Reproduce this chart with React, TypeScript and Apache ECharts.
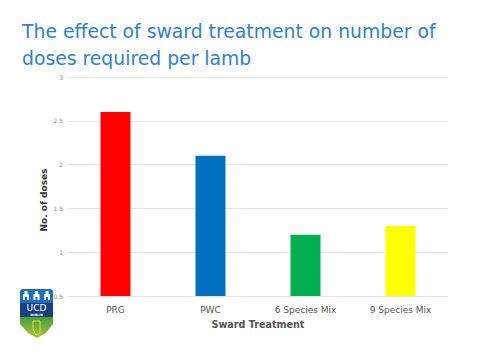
import React, { useEffect, useRef } from "react";
import * as echarts from "echarts";

const categories = ["PRG", "PWC", "6 Species Mix", "9 Species Mix"];
const doses = [2.6, 2.1, 1.2, 1.3];
const barColors = ["#ff0000", "#0070c0", "#00b050", "#ffff00"];
const titleLines = ["The effect of sward treatment on number of", "doses required per lamb"];

export default function App() {
  const ref = useRef<HTMLDivElement>(null);
  useEffect(() => {
    const chart = echarts.init(ref.current!, null, { renderer: "svg" });
    const castle = (x: number) => ({
      type: "group",
      children: [
        { type: "rect", shape: { x: x, y: 294, width: 6, height: 6 }, style: { fill: "#fff" } },
        { type: "rect", shape: { x: x + 1.5, y: 291, width: 3, height: 3 }, style: { fill: "#fff" } },
        { type: "rect", shape: { x: x + 2, y: 297, width: 2, height: 3 }, style: { fill: "#1f6fc0" } },
      ],
    });
    chart.setOption({
      animation: false,
      backgroundColor: "#ffffff",
      grid: { left: 68, right: 32, top: 77, bottom: 64 },
      xAxis: {
        type: "category",
        data: categories,
        axisLine: { show: false },
        axisTick: { show: false },
        axisLabel: { color: "#555", fontSize: 9, fontFamily: "DejaVu Sans", margin: 9 },
        name: "Sward Treatment",
        nameLocation: "middle",
        nameGap: 23,
        nameTextStyle: { color: "#555", fontSize: 9.6, fontWeight: "bold", fontFamily: "DejaVu Sans" },
      },
      yAxis: {
        type: "value",
        min: 0.5,
        max: 3,
        interval: 0.5,
        axisLine: { show: false },
        axisTick: { show: false },
        axisLabel: { color: "#888", fontSize: 6, fontFamily: "DejaVu Sans", margin: 5 },
        splitLine: { lineStyle: { color: "#e3e3e3", width: 1 } },
      },
      graphic: [
        {
          type: "text",
          left: 22,
          top: 18,
          style: {
            text: titleLines.join("\n"),
            fill: "#2f7fd6",
            fontSize: 18.8,
            lineHeight: 27,
            fontFamily: "DejaVu Sans",
          },
        },
        {
          type: "text",
          x: 44,
          y: 200,
          rotation: Math.PI / 2,
          style: {
            text: "No. of doses",
            fill: "#333",
            fontSize: 9,
            fontWeight: "bold",
            fontFamily: "DejaVu Sans",
            align: "center",
            verticalAlign: "middle",
          },
        },
        {
          type: "group",
          children: [
            {
              type: "polygon",
              shape: { points: [[20, 316], [53, 316], [53, 324], [46, 333], [37, 338], [28, 333], [20, 324]] },
              style: {
                fill: new echarts.graphic.LinearGradient(0, 0, 0, 1, [
                  { offset: 0, color: "#3f9a3a" },
                  { offset: 1, color: "#a8c83a" },
                ]),
              },
            },
            { type: "rect", shape: { x: 20, y: 289, width: 33, height: 15, r: [3, 3, 0, 0] }, style: { fill: "#1f6fc0" } },
            { type: "rect", shape: { x: 20, y: 303, width: 33, height: 14 }, style: { fill: "#1b3f7e" } },
            castle(23),
            castle(33.5),
            castle(44),
            {
              type: "text",
              x: 36.5,
              y: 308,
              style: { text: "UCD", fill: "#fff", fontSize: 9, lineHeight: 9, fontFamily: "DejaVu Sans", align: "center", verticalAlign: "middle" },
            },
            {
              type: "text",
              x: 36.5,
              y: 314.6,
              style: { text: "DUBLIN", fill: "#fff", fontSize: 3, lineHeight: 3, fontWeight: "bold", fontFamily: "DejaVu Sans", align: "center", verticalAlign: "middle" },
            },
            {
              type: "polyline",
              shape: { points: [[33, 321], [40, 321], [40, 333], [36, 335], [33, 329], [33, 321]] },
              style: { stroke: "#f0d040", fill: "none", lineWidth: 1 },
            },
          ],
        },
      ],
      series: [
        {
          type: "bar",
          data: doses.map((v, i) => ({ value: v, itemStyle: { color: barColors[i] } })),
          barWidth: 30,
        },
      ],
    });
    return () => chart.dispose();
  }, []);
  return <div ref={ref} style={{ width: 480, height: 360, position: "absolute", left: 0, top: 0 }} />;
}
